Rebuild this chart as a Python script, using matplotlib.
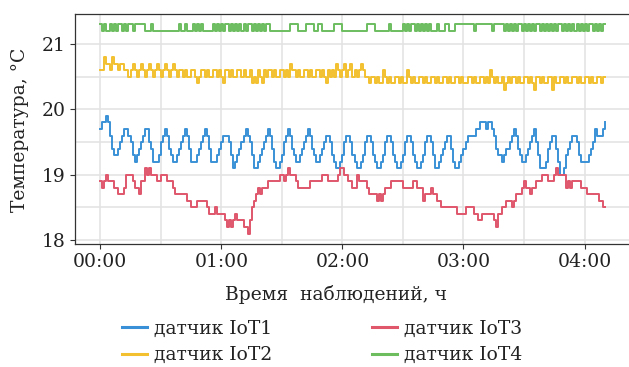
import matplotlib
matplotlib.use("Agg")
import matplotlib.pyplot as plt
from matplotlib.ticker import FixedLocator, FuncFormatter
import numpy as np

plt.rcParams['font.family'] = ['DejaVu Serif']

# время наблюдения, минуты от начала (шаг 1 мин)
minutes = np.arange(0, 251)

# датчик IoT1
iot1 = [
    19.7, 19.8, 19.8, 19.9, 19.8, 19.6, 19.4, 19.3, 19.3, 19.4,
    19.5, 19.6, 19.7, 19.7, 19.6, 19.5, 19.3, 19.2, 19.3, 19.4,
    19.5, 19.6, 19.7, 19.7, 19.5, 19.4, 19.2, 19.2, 19.2, 19.3,
    19.5, 19.6, 19.7, 19.6, 19.4, 19.3, 19.2, 19.2, 19.3, 19.4,
    19.5, 19.6, 19.7, 19.6, 19.4, 19.2, 19.2, 19.2, 19.3, 19.4,
    19.5, 19.6, 19.7, 19.6, 19.4, 19.2, 19.2, 19.2, 19.3, 19.4,
    19.5, 19.6, 19.6, 19.6, 19.5, 19.3, 19.1, 19.2, 19.3, 19.4,
    19.5, 19.6, 19.7, 19.6, 19.5, 19.3, 19.1, 19.1, 19.2, 19.3,
    19.4, 19.5, 19.6, 19.7, 19.6, 19.4, 19.2, 19.1, 19.1, 19.2,
    19.3, 19.5, 19.6, 19.7, 19.6, 19.4, 19.3, 19.2, 19.2, 19.3,
    19.4, 19.5, 19.6, 19.7, 19.6, 19.4, 19.3, 19.2, 19.2, 19.3,
    19.4, 19.5, 19.6, 19.6, 19.5, 19.3, 19.2, 19.1, 19.1, 19.2,
    19.3, 19.5, 19.6, 19.6, 19.5, 19.3, 19.2, 19.1, 19.1, 19.2,
    19.3, 19.5, 19.6, 19.6, 19.5, 19.3, 19.2, 19.1, 19.1, 19.2,
    19.3, 19.5, 19.6, 19.6, 19.5, 19.3, 19.2, 19.1, 19.1, 19.2,
    19.3, 19.5, 19.6, 19.6, 19.5, 19.3, 19.2, 19.1, 19.1, 19.2,
    19.3, 19.5, 19.6, 19.6, 19.5, 19.3, 19.1, 19.1, 19.2, 19.3,
    19.4, 19.5, 19.6, 19.6, 19.4, 19.2, 19.1, 19.1, 19.2, 19.3,
    19.4, 19.5, 19.6, 19.6, 19.6, 19.6, 19.7, 19.7, 19.8, 19.8,
    19.8, 19.7, 19.8, 19.8, 19.7, 19.6, 19.4, 19.3, 19.3, 19.2,
    19.3, 19.4, 19.4, 19.5, 19.6, 19.7, 19.6, 19.4, 19.3, 19.2,
    19.2, 19.3, 19.4, 19.5, 19.6, 19.7, 19.5, 19.3, 19.1, 19.1,
    19.1, 19.2, 19.4, 19.5, 19.6, 19.6, 19.4, 19.2, 19.0, 19.0,
    19.1, 19.3, 19.4, 19.5, 19.6, 19.6, 19.5, 19.3, 19.2, 19.2,
    19.2, 19.2, 19.3, 19.4, 19.5, 19.7, 19.6, 19.6, 19.6, 19.7,
    19.8,
]

# датчик IoT2
iot2 = [
    20.6, 20.6, 20.8, 20.7, 20.7, 20.6, 20.8, 20.7, 20.7, 20.6,
    20.7, 20.7, 20.6, 20.6, 20.5, 20.6, 20.7, 20.6, 20.5, 20.6,
    20.7, 20.6, 20.5, 20.6, 20.7, 20.6, 20.5, 20.6, 20.7, 20.6,
    20.5, 20.6, 20.7, 20.6, 20.5, 20.6, 20.7, 20.6, 20.5, 20.6,
    20.6, 20.5, 20.6, 20.5, 20.5, 20.6, 20.6, 20.5, 20.4, 20.5,
    20.6, 20.6, 20.5, 20.6, 20.5, 20.5, 20.6, 20.6, 20.5, 20.6,
    20.5, 20.4, 20.6, 20.6, 20.5, 20.6, 20.5, 20.5, 20.6, 20.6,
    20.5, 20.6, 20.5, 20.5, 20.6, 20.4, 20.5, 20.4, 20.6, 20.5,
    20.4, 20.6, 20.5, 20.6, 20.6, 20.5, 20.6, 20.5, 20.5, 20.6,
    20.6, 20.5, 20.6, 20.5, 20.7, 20.6, 20.6, 20.5, 20.6, 20.5,
    20.5, 20.6, 20.6, 20.5, 20.6, 20.5, 20.5, 20.6, 20.6, 20.5,
    20.6, 20.5, 20.4, 20.6, 20.5, 20.6, 20.5, 20.7, 20.6, 20.5,
    20.6, 20.7, 20.5, 20.6, 20.7, 20.5, 20.6, 20.5, 20.6, 20.7,
    20.6, 20.5, 20.5, 20.4, 20.5, 20.5, 20.4, 20.5, 20.4, 20.4,
    20.6, 20.5, 20.4, 20.5, 20.4, 20.4, 20.5, 20.5, 20.4, 20.5,
    20.4, 20.4, 20.6, 20.5, 20.4, 20.5, 20.4, 20.4, 20.5, 20.5,
    20.4, 20.5, 20.4, 20.4, 20.5, 20.5, 20.4, 20.5, 20.4, 20.4,
    20.5, 20.5, 20.4, 20.5, 20.4, 20.4, 20.5, 20.5, 20.4, 20.5,
    20.4, 20.4, 20.5, 20.5, 20.4, 20.5, 20.4, 20.4, 20.5, 20.5,
    20.4, 20.5, 20.4, 20.6, 20.5, 20.4, 20.5, 20.4, 20.4, 20.5,
    20.3, 20.4, 20.5, 20.4, 20.5, 20.5, 20.4, 20.5, 20.4, 20.4,
    20.5, 20.5, 20.4, 20.5, 20.4, 20.3, 20.5, 20.5, 20.4, 20.5,
    20.4, 20.4, 20.5, 20.5, 20.3, 20.5, 20.4, 20.4, 20.5, 20.5,
    20.4, 20.5, 20.4, 20.4, 20.5, 20.5, 20.4, 20.5, 20.4, 20.4,
    20.5, 20.5, 20.4, 20.5, 20.4, 20.4, 20.5, 20.5, 20.4, 20.5,
    20.5,
]

# датчик IoT3
iot3 = [
    18.9, 18.8, 18.9, 19.0, 18.9, 18.9, 18.9, 18.8, 18.8, 18.7,
    18.7, 18.7, 18.8, 19.0, 19.0, 19.0, 18.9, 18.8, 18.8, 18.7,
    18.9, 18.9, 19.1, 19.0, 19.1, 19.0, 19.0, 19.0, 18.9, 18.9,
    19.0, 19.0, 19.0, 18.9, 18.9, 18.9, 18.8, 18.7, 18.7, 18.7,
    18.7, 18.7, 18.7, 18.6, 18.6, 18.5, 18.5, 18.5, 18.6, 18.6,
    18.6, 18.6, 18.6, 18.5, 18.4, 18.4, 18.4, 18.5, 18.4, 18.4,
    18.4, 18.4, 18.3, 18.2, 18.3, 18.2, 18.3, 18.4, 18.3, 18.3,
    18.3, 18.2, 18.2, 18.1, 18.3, 18.5, 18.6, 18.7, 18.8, 18.7,
    18.8, 18.8, 18.8, 18.9, 18.9, 18.9, 18.9, 18.9, 18.9, 19.0,
    19.0, 18.9, 19.0, 19.1, 19.0, 19.0, 19.0, 18.9, 18.8, 18.8,
    18.8, 18.8, 18.8, 18.8, 18.9, 18.9, 18.9, 18.9, 18.9, 18.9,
    19.0, 19.0, 19.0, 18.9, 18.9, 18.9, 18.9, 18.9, 19.0, 19.1,
    19.1, 19.0, 19.0, 18.9, 18.9, 18.8, 18.8, 19.0, 18.9, 18.9,
    18.9, 18.9, 18.8, 18.7, 18.7, 18.7, 18.7, 18.6, 18.7, 18.6,
    18.7, 18.8, 18.8, 18.8, 18.9, 18.9, 18.9, 18.9, 18.9, 18.9,
    18.8, 18.8, 18.8, 18.8, 18.8, 18.9, 18.9, 18.8, 18.8, 18.8,
    18.6, 18.7, 18.7, 18.7, 18.8, 18.7, 18.7, 18.6, 18.6, 18.5,
    18.5, 18.5, 18.5, 18.5, 18.5, 18.5, 18.5, 18.4, 18.4, 18.4,
    18.4, 18.5, 18.5, 18.5, 18.5, 18.4, 18.4, 18.3, 18.3, 18.4,
    18.4, 18.4, 18.4, 18.4, 18.4, 18.3, 18.2, 18.4, 18.4, 18.5,
    18.5, 18.6, 18.6, 18.6, 18.5, 18.6, 18.7, 18.7, 18.7, 18.8,
    18.9, 18.8, 18.8, 18.7, 18.8, 18.8, 18.9, 18.9, 18.9, 19.0,
    19.0, 19.0, 18.9, 18.9, 18.9, 19.0, 19.1, 19.0, 19.0, 19.0,
    19.0, 18.8, 18.9, 18.8, 18.9, 18.9, 18.9, 18.9, 18.8, 18.8,
    18.8, 18.7, 18.7, 18.7, 18.7, 18.7, 18.7, 18.6, 18.6, 18.5,
    18.5,
]

# датчик IoT4
iot4 = [
    21.3, 21.2, 21.3, 21.2, 21.2, 21.3, 21.2, 21.3, 21.2, 21.3,
    21.3, 21.2, 21.3, 21.2, 21.3, 21.3, 21.2, 21.3, 21.3, 21.3,
    21.3, 21.3, 21.2, 21.2, 21.2, 21.3, 21.2, 21.2, 21.2, 21.2,
    21.2, 21.2, 21.2, 21.2, 21.2, 21.2, 21.2, 21.2, 21.2, 21.3,
    21.2, 21.2, 21.3, 21.2, 21.2, 21.2, 21.3, 21.2, 21.3, 21.2,
    21.3, 21.2, 21.2, 21.2, 21.2, 21.2, 21.3, 21.2, 21.3, 21.2,
    21.3, 21.2, 21.3, 21.3, 21.2, 21.3, 21.2, 21.3, 21.2, 21.3,
    21.2, 21.3, 21.2, 21.3, 21.3, 21.2, 21.3, 21.2, 21.3, 21.2,
    21.3, 21.2, 21.3, 21.3, 21.2, 21.2, 21.2, 21.2, 21.2, 21.2,
    21.2, 21.2, 21.2, 21.2, 21.3, 21.3, 21.3, 21.3, 21.2, 21.2,
    21.2, 21.2, 21.3, 21.3, 21.3, 21.3, 21.2, 21.2, 21.3, 21.3,
    21.2, 21.2, 21.2, 21.2, 21.2, 21.2, 21.3, 21.3, 21.3, 21.3,
    21.2, 21.2, 21.2, 21.2, 21.2, 21.2, 21.2, 21.2, 21.2, 21.2,
    21.2, 21.2, 21.3, 21.3, 21.3, 21.3, 21.2, 21.2, 21.2, 21.2,
    21.2, 21.2, 21.2, 21.3, 21.2, 21.2, 21.2, 21.2, 21.2, 21.2,
    21.3, 21.2, 21.3, 21.2, 21.3, 21.3, 21.2, 21.3, 21.2, 21.3,
    21.2, 21.3, 21.2, 21.3, 21.2, 21.2, 21.2, 21.3, 21.2, 21.2,
    21.2, 21.3, 21.3, 21.2, 21.2, 21.2, 21.3, 21.3, 21.3, 21.3,
    21.3, 21.3, 21.3, 21.3, 21.3, 21.2, 21.3, 21.3, 21.3, 21.3,
    21.3, 21.3, 21.3, 21.3, 21.2, 21.3, 21.3, 21.3, 21.3, 21.3,
    21.2, 21.3, 21.2, 21.3, 21.2, 21.3, 21.2, 21.3, 21.3, 21.2,
    21.3, 21.2, 21.3, 21.2, 21.3, 21.2, 21.3, 21.3, 21.2, 21.3,
    21.2, 21.3, 21.2, 21.3, 21.2, 21.3, 21.2, 21.3, 21.3, 21.2,
    21.3, 21.2, 21.3, 21.2, 21.3, 21.2, 21.3, 21.2, 21.3, 21.2,
    21.3, 21.2, 21.3, 21.3, 21.2, 21.3, 21.2, 21.3, 21.2, 21.3,
    21.3,
]

labels = ["датчик IoT1", "датчик IoT2", "датчик IoT3", "датчик IoT4"]
colors = ["#3a90d6", "#f3c12f", "#e0566b", "#6dbd5f"]

x_major = [0, 60, 120, 180, 240]
x_minor = [30, 90, 150, 210]
y_major = [18, 19, 20, 21]
y_minor = [18.5, 19.5, 20.5]

fs = 13.5

fig = plt.figure(figsize=(6.29, 3.67), dpi=100)
ax = fig.add_axes([75 / 629, 1 - 244 / 367, 555 / 629, 230 / 367])

for series, lab, col in zip([iot1, iot2, iot3, iot4], labels, colors):
    ax.plot(minutes, series, drawstyle="steps-post", color=col, lw=1.4, label=lab)

ax.set_xlim(-12.5, 262.5)
ax.set_ylim(17.94, 21.46)

ax.xaxis.set_major_locator(FixedLocator(x_major))
ax.xaxis.set_minor_locator(FixedLocator(x_minor))
ax.yaxis.set_major_locator(FixedLocator(y_major))
ax.yaxis.set_minor_locator(FixedLocator(y_minor))
ax.xaxis.set_major_formatter(FuncFormatter(lambda m, p: "%02d:%02d" % (int(m // 60), int(m % 60))))

ax.grid(True, which="both", color="#e2e2e2", lw=1.1)
ax.set_axisbelow(True)
ax.tick_params(which="major", length=3.5, width=0.8, color="#333333",
               labelsize=fs, labelcolor="#222222", pad=3)
ax.tick_params(which="minor", length=0)

for side in ["top", "left", "bottom"]:
    ax.spines[side].set_color("#333333")
    ax.spines[side].set_linewidth(0.9)
ax.spines["right"].set_visible(False)

fig.text(20 / 629, 1 - 130 / 367, "Температура, °C", rotation=90,
         ha="center", va="center", fontsize=fs, color="#222222")
fig.text(336 / 629, 1 - 294 / 367, "Время  наблюдений, ч",
         ha="center", va="center", fontsize=fs, color="#222222")

leg = fig.legend(loc="center", bbox_to_anchor=(322 / 629, 1 - 342 / 367), ncol=2,
                 frameon=False, fontsize=fs, handlelength=1.35, handletextpad=0.38,
                 columnspacing=5.3, labelspacing=0.45)
for h in leg.get_lines():
    h.set_linewidth(2.2)
for t in leg.get_texts():
    t.set_color("#222222")

plt.savefig("out.png", dpi=100)
